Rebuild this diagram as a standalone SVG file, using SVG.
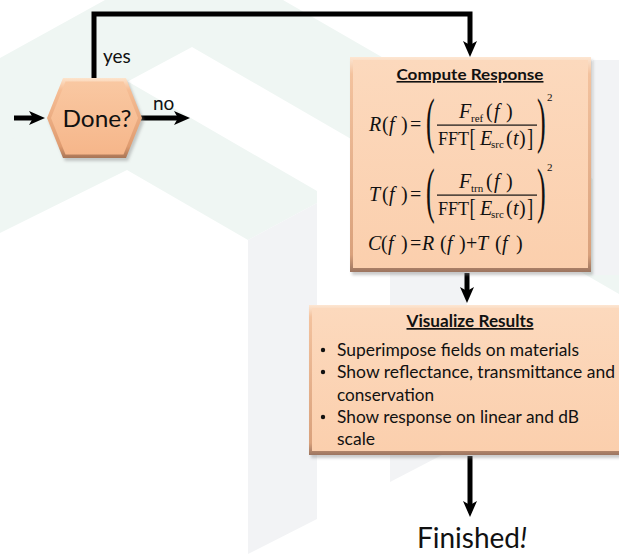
<svg xmlns="http://www.w3.org/2000/svg" width="619" height="554" viewBox="0 0 619 554">
<defs>
  <linearGradient id="rim" x1="0" y1="0" x2="0" y2="1">
    <stop offset="0" stop-color="#fde6d2"/>
    <stop offset="0.08" stop-color="#f3c29e"/>
    <stop offset="0.92" stop-color="#d9a17c"/>
    <stop offset="1" stop-color="#9c7560"/>
  </linearGradient>
  <linearGradient id="face" x1="0" y1="0" x2="0" y2="1">
    <stop offset="0" stop-color="#fcd9bd"/>
    <stop offset="1" stop-color="#fbcfad"/>
  </linearGradient>
  <linearGradient id="hexrim" x1="0" y1="0" x2="0" y2="1">
    <stop offset="0" stop-color="#fde4cc"/>
    <stop offset="0.15" stop-color="#f6bd94"/>
    <stop offset="0.85" stop-color="#e09c70"/>
    <stop offset="1" stop-color="#a87556"/>
  </linearGradient>
  <linearGradient id="hexface" x1="0" y1="0" x2="0" y2="1">
    <stop offset="0" stop-color="#f9c8a2"/>
    <stop offset="1" stop-color="#f6b68a"/>
  </linearGradient>
  <filter id="soft" x="-10%" y="-10%" width="130%" height="130%">
    <feGaussianBlur stdDeviation="1.6"/>
  </filter>
  <marker id="ah" markerWidth="16" markerHeight="14" refX="4" refY="7" orient="auto" markerUnits="userSpaceOnUse">
    <path d="M0,0 L16,7 L0,14 L4,7 z" fill="#000"/>
  </marker>
</defs>
<style>
  .ui{font-family:Lato,"Open Sans","Liberation Sans",sans-serif;fill:#111}
  .b{font-weight:bold;text-decoration:underline}
  .m{font-family:"Liberation Serif","Times New Roman",serif;fill:#111}
  .n{font-size:20px}
  .fft{font-size:18px}
  .big{font-size:62px}
  .brk{font-size:25px}
  .sup{font-size:11px}
  .i{font-style:italic}
  .sub{font-size:11px}
  .conn{fill:none;stroke:#000;stroke-width:5}
  .mint{fill:#eff6f3}
  .grey{fill:#f2f3f5}
  .shadow{fill:#8a8a8a;opacity:0.45}
</style>

<!-- faint background logo -->
<g id="backdrop">
  <polygon class="mint" points="0,58 105,0 283,0 619,194 619,294 192,47 0,150"/>
  <polygon class="mint" points="0,145 127,81 317,191 317,203 248,240 127,170 0,233"/>
  <polygon class="grey" points="248,240 317,203 317,519 248,554"/>
  <polygon class="grey" points="390,268 467,268 467,442 390,482"/>
  <rect class="grey" x="593" y="60" width="26" height="215"/>
</g>

<!-- connectors -->
<g id="connectors">
  <path class="conn" d="M94,80 V14 H470 V45" marker-end="url(#ah)"/>
  <path class="conn" d="M14,118 H33" marker-end="url(#ah)"/>
  <path class="conn" d="M141,118 H178" marker-end="url(#ah)"/>
  <path class="conn" d="M467,273 V291" marker-end="url(#ah)"/>
  <path class="conn" d="M470,456 V505" marker-end="url(#ah)"/>
  <text class="ui" x="103" y="63" font-size="19">yes</text>
  <text class="ui" x="153" y="110" font-size="19">no</text>
</g>

<!-- decision -->
<g id="done">
  <polygon class="shadow" filter="url(#soft)" points="49,121 65,81 128,81 144,121 128,161 65,161"/>
  <polygon fill="url(#hexrim)" points="47,118 63,78 126,78 142,118 126,158 63,158"/>
  <polygon fill="url(#hexface)" points="51,118 65.5,81.5 123.5,81.5 138,118 123.5,154.5 65.5,154.5"/>
  <text class="ui" x="97" y="127" font-size="23" text-anchor="middle" textLength="69" lengthAdjust="spacingAndGlyphs">Done?</text>
</g>

<!-- compute step -->
<g id="compute">
  <rect class="shadow" filter="url(#soft)" x="352" y="60" width="241" height="215"/>
  <rect fill="url(#rim)" x="350" y="57" width="241" height="215"/>
  <rect fill="url(#face)" x="353" y="60" width="235" height="208"/>
  <text class="ui b" x="470" y="80" font-size="16" text-anchor="middle" textLength="147" lengthAdjust="spacingAndGlyphs">Compute Response</text>

  <!-- R(f) -->
  <text class="m n" y="131"><tspan class="i" x="369">R</tspan><tspan x="382">(</tspan><tspan class="i" x="389">f</tspan><tspan x="401">)</tspan><tspan x="410">=</tspan></text>
  <text class="m big" transform="translate(426,141) scale(0.42,1)">(</text>
  <text class="m big" transform="translate(537,141) scale(0.42,1)">)</text>
  <text class="m n" y="118"><tspan class="i" x="459">F</tspan><tspan class="sub" x="471" dy="4">ref</tspan><tspan x="486" dy="-4">(</tspan><tspan class="i" x="494">f</tspan><tspan x="506">)</tspan></text>
  <rect x="437" y="124.5" width="100" height="1.2" fill="#111"/>
  <text class="m fft" x="438" y="145">FFT</text>
  <text class="m brk" transform="translate(469.5,146) scale(0.75,1)">[</text>
  <text class="m n" y="145"><tspan x="480" class="i">E</tspan><tspan class="sub" x="491" dy="3">src</tspan><tspan x="506" dy="-3">(</tspan><tspan class="i" x="513">t</tspan><tspan x="519">)</tspan></text>
  <text class="m brk" transform="translate(527,146) scale(0.75,1)">]</text>
  <text class="m sup" x="547" y="101">2</text>

  <!-- T(f) -->
  <text class="m n" y="201"><tspan class="i" x="369">T</tspan><tspan x="382">(</tspan><tspan class="i" x="389">f</tspan><tspan x="401">)</tspan><tspan x="410">=</tspan></text>
  <text class="m big" transform="translate(426,211) scale(0.42,1)">(</text>
  <text class="m big" transform="translate(537,211) scale(0.42,1)">)</text>
  <text class="m n" y="188"><tspan class="i" x="459">F</tspan><tspan class="sub" x="471" dy="4">trn</tspan><tspan x="486" dy="-4">(</tspan><tspan class="i" x="494">f</tspan><tspan x="506">)</tspan></text>
  <rect x="437" y="194.5" width="100" height="1.2" fill="#111"/>
  <text class="m fft" x="438" y="215">FFT</text>
  <text class="m brk" transform="translate(469.5,216) scale(0.75,1)">[</text>
  <text class="m n" y="215"><tspan x="480" class="i">E</tspan><tspan class="sub" x="491" dy="3">src</tspan><tspan x="506" dy="-3">(</tspan><tspan class="i" x="513">t</tspan><tspan x="519">)</tspan></text>
  <text class="m brk" transform="translate(527,216) scale(0.75,1)">]</text>
  <text class="m sup" x="547" y="171">2</text>

  <!-- C(f) -->
  <text class="m n" y="250"><tspan class="i" x="368">C</tspan><tspan x="381">(</tspan><tspan class="i" x="388">f</tspan><tspan x="401">)</tspan><tspan x="410">=</tspan><tspan class="i" x="422">R</tspan><tspan x="440">(</tspan><tspan class="i" x="447">f</tspan><tspan x="459">)</tspan><tspan x="466">+</tspan><tspan class="i" x="477">T</tspan><tspan x="495">(</tspan><tspan class="i" x="502">f</tspan><tspan x="516">)</tspan></text>
</g>

<!-- visualize step -->
<g id="visualize">
  <rect class="shadow" filter="url(#soft)" x="311" y="308" width="320" height="150"/>
  <rect fill="url(#rim)" x="309" y="305" width="320" height="150"/>
  <rect fill="url(#face)" x="312" y="308" width="314" height="143"/>
  <text class="ui b" x="470" y="327" font-size="17" text-anchor="middle" textLength="127" lengthAdjust="spacingAndGlyphs">Visualize Results</text>
  <g class="ui" font-size="17">
    <circle cx="323" cy="350" r="2.2" fill="#111"/>
    <circle cx="323" cy="372" r="2.2" fill="#111"/>
    <circle cx="323" cy="417" r="2.2" fill="#111"/>
    <text x="337" y="356" textLength="242" lengthAdjust="spacingAndGlyphs">Superimpose fields on materials</text>
    <text x="337" y="378" textLength="278" lengthAdjust="spacingAndGlyphs">Show reflectance, transmittance and</text>
    <text x="337" y="401" textLength="97" lengthAdjust="spacingAndGlyphs">conservation</text>
    <text x="337" y="423" textLength="242" lengthAdjust="spacingAndGlyphs">Show response on linear and dB</text>
    <text x="337" y="445" textLength="38" lengthAdjust="spacingAndGlyphs">scale</text>
  </g>
</g>

<!-- end label -->
<g id="finished">
  <text class="ui" x="472" y="548" font-size="28" text-anchor="middle">Finished<tspan font-style="italic">!</tspan></text>
</g>
</svg>
